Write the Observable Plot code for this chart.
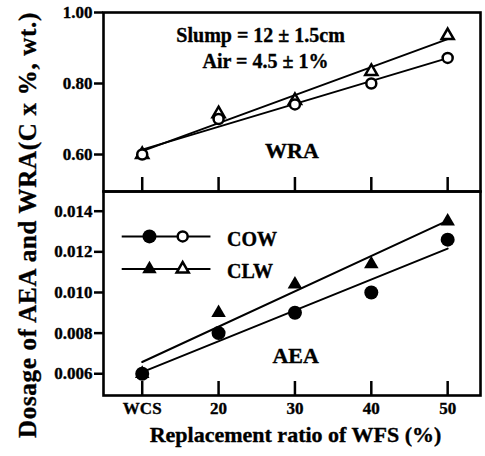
<!DOCTYPE html>
<html>
<head>
<meta charset="utf-8">
<script src="https://cdn.jsdelivr.net/npm/d3@7"></script>
<script src="https://cdn.jsdelivr.net/npm/@observablehq/plot@0.6"></script>
<style>
  html, body { margin: 0; padding: 0; background: #fff; }
  #chart { position: relative; width: 485px; height: 456px; }
  #chart > * { position: absolute; left: 0; }
  #chart svg { overflow: visible; }
  #chart svg text {
    font-family: "Liberation Serif", "DejaVu Serif", serif;
    font-weight: bold;
    stroke: black;
    stroke-width: 0.35px;
  }
</style>
</head>
<body>
<div id="chart"></div>
<script>
// Replacement ratio of WFS (%); the control mix WCS sits at the 10 % slot
const ratio = [10, 20, 30, 40, 50];
const ratioLabels = ["WCS", "20", "30", "40", "50"];

// Water-reducing admixture dosage (C x %, wt.)
const wraCOW = [0.60, 0.70, 0.741, 0.80, 0.872];
const wraCLW = [0.60, 0.715, 0.752, 0.834, 0.935];

// Air-entraining admixture dosage (C x %, wt.)
const aeaCOW = [0.006, 0.008, 0.009, 0.010, 0.0126];
const aeaCLW = [0.006, 0.009, 0.0104, 0.0114, 0.0135];

const series = ["COW", "CLW"];
const symbols = {COW: "circle", CLW: "triangle"};

const wraTicks = [0.60, 0.80, 1.00];
const aeaTicks = [0.006, 0.008, 0.010, 0.012, 0.014];

const yTitle = "Dosage of AEA and WRA(C x %, wt.)";
const xTitle = "Replacement ratio of WFS (%)";

const toRows = (cow, clw) => [
  ...ratio.map((r, i) => ({ratio: r, value: cow[i], series: "COW"})),
  ...ratio.map((r, i) => ({ratio: r, value: clw[i], series: "CLW"}))
];
const wraRows = toRows(wraCOW, wraCLW);
const aeaRows = toRows(aeaCOW, aeaCLW);

// Annotation text placed in data units of each panel
const wraNotes = [
  {text: "Slump = 12 \u00b1 1.5cm", x: 25.5, y: 0.918, size: 20},
  {text: "Air = 4.5 \u00b1 1%", x: 26.15, y: 0.845, size: 20},
  {text: "WRA", x: 29.6, y: 0.589, size: 22}
];
const aeaNotes = [
  {text: "AEA", x: 30.1, y: 0.00651, size: 22}
];

// Legend rows (data units of the AEA panel)
const legendRows = [
  {series: "COW", y: 0.01276, textY: 0.01231},
  {series: "CLW", y: 0.01115, textY: 0.01073}
];
const legendLine = [7.38, 19.0];
const legendFilledX = 10.95, legendOpenX = 15.3, legendTextX = 21.1;

const xDomain = [4.93, 54.3];
const font = {fontFamily: "'Liberation Serif', 'DejaVu Serif', serif", fontWeight: "bold", fontSize: "17px", background: "transparent"};
const W = 485, ML = 103, MR = 5;

const openR = {circle: 5, triangle: 4.5};
const filledR = {circle: 7, triangle: 5.4};

// One dot mark per symbol so each keeps its own constant size
const dotsBySymbol = (rows, sizes, style) => series.map(s =>
  Plot.dot(rows.filter(d => d.series === s), {
    x: "ratio", y: "value", symbol: "series", r: sizes[symbols[s]], ...style
  })
).reverse();

const chart = document.getElementById("chart");

// Upper panel: WRA (open markers)
const wraPlot = Plot.plot({
  width: W, height: 191,
  marginLeft: ML, marginRight: MR, marginTop: 12, marginBottom: 0,
  style: font,
  x: {domain: xDomain, axis: null},
  y: {domain: [0.4958, 1.0], axis: null},
  symbol: {domain: series, range: series.map(s => symbols[s])},
  marks: [
    Plot.frame({stroke: "black", strokeWidth: 2.6}),
    Plot.axisY({ticks: wraTicks, tickFormat: d3.format(".2f"), tickSize: 9, tickPadding: 2, strokeWidth: 2.5, fontSize: 17, label: null}),
    Plot.ruleX(ratio, {x: d => d, insetTop: 179 - 14, stroke: "black", strokeWidth: 2.5}),
    Plot.linearRegressionY(wraRows, {x: "ratio", y: "value", z: "series", ci: 0, stroke: "black", strokeWidth: 2}),
    ...dotsBySymbol(wraRows, openR, {fill: "white", stroke: "black", strokeWidth: 2.5}),
    Plot.text(wraNotes, {x: "x", y: "y", text: "text", fontSize: d => d.size, lineAnchor: "bottom", fill: "black"})
  ]
});
wraPlot.style.top = "0px";
chart.appendChild(wraPlot);

// Legend marks: a line with a filled and an open marker per series
const legendMarks = legendRows.flatMap(row => {
  const sym = symbols[row.series];
  return [
    Plot.ruleY([row], {y: "y", x1: legendLine[0], x2: legendLine[1], stroke: "black", strokeWidth: 2}),
    Plot.dot([row], {x: legendFilledX, y: "y", symbol: "series", r: filledR[sym], fill: "black", stroke: "none"}),
    Plot.dot([row], {x: legendOpenX, y: "y", symbol: "series", r: openR[sym], fill: "white", stroke: "black", strokeWidth: 2.5}),
    Plot.text([row], {x: legendTextX, y: "textY", text: "series", textAnchor: "start", lineAnchor: "bottom", fontSize: 20, fill: "black"})
  ];
});

// Lower panel: AEA (filled markers) with legend and x axis
const aeaPlot = Plot.plot({
  width: W, height: 265,
  marginLeft: ML, marginRight: MR, marginTop: 0, marginBottom: 61,
  style: font,
  x: {domain: xDomain, axis: null},
  y: {domain: [0.00493, 0.01497], axis: null},
  symbol: {domain: series, range: series.map(s => symbols[s])},
  marks: [
    Plot.frame({stroke: "black", strokeWidth: 2.6}),
    Plot.axisY({ticks: aeaTicks, tickFormat: d3.format(".3f"), tickSize: 9, tickPadding: 2, strokeWidth: 2.5, fontSize: 17, label: null}),
    Plot.axisX({ticks: ratio, tickFormat: d => ratioLabels[ratio.indexOf(d)], tickSize: 0, tickPadding: 6, fontSize: 17, label: null}),
    Plot.ruleX(ratio, {x: d => d, insetTop: 204 - 14, stroke: "black", strokeWidth: 2.5}),
    Plot.linearRegressionY(aeaRows, {x: "ratio", y: "value", z: "series", ci: 0, stroke: "black", strokeWidth: 2}),
    ...dotsBySymbol(aeaRows, filledR, {fill: "black", stroke: "none"}),
    Plot.text(aeaNotes, {x: "x", y: "y", text: "text", fontSize: d => d.size, lineAnchor: "bottom", fill: "black"}),
    ...legendMarks,
    Plot.text([xTitle], {frameAnchor: "bottom", text: d => d, dx: 3.5, dy: 46, lineAnchor: "bottom", fontSize: 22, fill: "black"})
  ]
});
aeaPlot.style.top = "191px";
chart.appendChild(aeaPlot);

// Shared y title spanning both panels
const ns = "http://www.w3.org/2000/svg";
const overlay = document.createElementNS(ns, "svg");
overlay.setAttribute("width", W);
overlay.setAttribute("height", 456);
overlay.style.top = "0px";
overlay.style.pointerEvents = "none";
const yText = document.createElementNS(ns, "text");
yText.setAttribute("transform", "translate(27,225) rotate(-90)");
yText.setAttribute("text-anchor", "middle");
yText.setAttribute("dominant-baseline", "central");
yText.setAttribute("font-size", "25");
yText.setAttribute("letter-spacing", "0.7");
yText.textContent = yTitle;
overlay.appendChild(yText);
chart.appendChild(overlay);
</script>
</body>
</html>
